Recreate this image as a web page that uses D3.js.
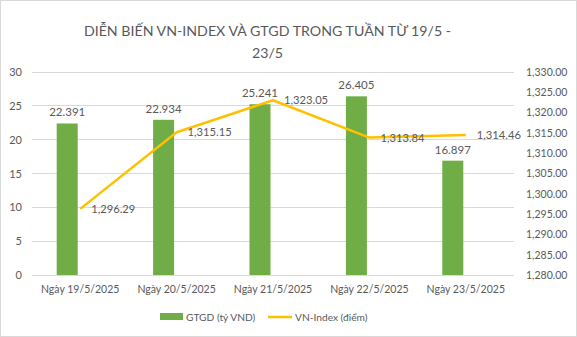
<!DOCTYPE html>
<html><head><meta charset="utf-8">
<script src="https://cdn.jsdelivr.net/npm/d3@7"></script>
<style>
html,body{margin:0;padding:0;background:#fff;}
svg{display:block;font-family:Lato,"Open Sans",sans-serif;}
</style></head>
<body>
<svg id="c" width="577" height="337"></svg>
<script>
const categories = ["Ngày 19/5/2025","Ngày 20/5/2025","Ngày 21/5/2025","Ngày 22/5/2025","Ngày 23/5/2025"];
const gtgd = [22.391, 22.934, 25.241, 26.405, 16.897];
const vnIndex = [1296.29, 1315.15, 1323.05, 1313.84, 1314.46];
const leftTicks = [0,5,10,15,20,25,30];
const rightTicks = [1280,1285,1290,1295,1300,1305,1310,1315,1320,1325,1330];
const titleLines = ["DIỄN BIẾN VN-INDEX VÀ GTGD TRONG TUẦN TỪ 19/5 -","23/5"];
const legendLabels = ["GTGD (tỷ VND)","VN-Index (điểm)"];

const svg = d3.select("#c");
const W=577,H=337;
const m={l:32,r:514,t:72,b:275};
const txt="#595959";

svg.append("rect").attr("x",0.5).attr("y",0.5).attr("width",W-1).attr("height",H-1)
  .attr("fill","#fff").attr("stroke","#d9d9d9");

const x=d3.scaleBand().domain(categories).range([m.l,m.r]);
const yL=d3.scaleLinear().domain([0,30]).range([m.b,m.t]);
const yR=d3.scaleLinear().domain([1280,1330]).range([m.b,m.t]);

// gridlines
svg.append("g").selectAll("line").data(leftTicks).join("line")
  .attr("x1",m.l).attr("x2",m.r).attr("y1",d=>yL(d)).attr("y2",d=>yL(d))
  .attr("stroke","#d9d9d9").attr("stroke-width",1).attr("shape-rendering","crispEdges");

// left axis
const axL=svg.append("g").attr("transform",`translate(${m.l-10},0)`)
  .call(d3.axisLeft(yL).tickValues(leftTicks).tickSize(0).tickPadding(0).tickFormat(d3.format("d")));
axL.select(".domain").remove();
axL.selectAll("text").attr("fill",txt).attr("font-size",11).attr("font-family","Lato");

// right axis
const axR=svg.append("g").attr("transform",`translate(${m.r+12},0)`)
  .call(d3.axisRight(yR).tickValues(rightTicks).tickSize(0).tickPadding(0).tickFormat(d3.format(",.2f")));
axR.select(".domain").remove();
axR.selectAll("text").attr("fill",txt).attr("font-size",10.5).attr("font-family","Lato");

// x axis labels
const axB=svg.append("g").attr("transform",`translate(0,${m.b})`)
  .call(d3.axisBottom(x).tickSize(0).tickPadding(11));
axB.select(".domain").remove();
axB.selectAll("text").attr("fill",txt).attr("font-size",10.5).attr("font-family","Lato");

// bars (shifted left of category centre as in the reference)
const bw=21, barOff=-13;
const bx=(i)=>x(categories[i])+x.bandwidth()/2+barOff;
svg.append("g").selectAll("rect").data(gtgd).join("rect")
  .attr("x",(d,i)=>bx(i)-bw/2)
  .attr("width",bw)
  .attr("y",d=>yL(d)).attr("height",d=>yL(0)-yL(d))
  .attr("fill","#70AD47");

svg.append("g").selectAll("text").data(gtgd).join("text")
  .attr("x",(d,i)=>bx(i))
  .attr("y",d=>yL(d)-7)
  .attr("text-anchor","middle").attr("fill",txt).attr("font-size",11.5)
  .text(d=>d3.format(".3f")(d));

// line
const lx=(i)=>x(categories[i])+x.bandwidth()/2;
const line=d3.line().x((d,i)=>lx(i)).y(d=>yR(d));
svg.append("path").datum(vnIndex).attr("d",line)
  .attr("fill","none").attr("stroke","#FFC000").attr("stroke-width",2.5).attr("stroke-linejoin","round");

svg.append("g").selectAll("text").data(vnIndex).join("text")
  .attr("x",(d,i)=>lx(i)+11)
  .attr("y",d=>yR(d)).attr("dy","0.35em")
  .attr("fill",txt).attr("font-size",11.2)
  .text(d=>d3.format(",.2f")(d));

// title
svg.append("g").selectAll("text").data(titleLines).join("text")
  .attr("x",267.5).attr("y",(d,i)=>36+i*21.5)
  .attr("text-anchor","middle").attr("fill",txt).attr("font-size",14.2).attr("font-weight",400)
  .text(d=>d);

// legend
const lg=svg.append("g");
lg.append("rect").attr("x",160).attr("y",313).attr("width",23).attr("height",7).attr("fill","#70AD47");
lg.append("text").attr("x",186).attr("y",317).attr("dy","0.35em").attr("fill",txt).attr("font-size",10.2).text(legendLabels[0]);
lg.append("line").attr("x1",268).attr("x2",292).attr("y1",317).attr("y2",317).attr("stroke","#FFC000").attr("stroke-width",2.5);
lg.append("text").attr("x",295).attr("y",317).attr("dy","0.35em").attr("fill",txt).attr("font-size",10.2).text(legendLabels[1]);
</script>
</body></html>
